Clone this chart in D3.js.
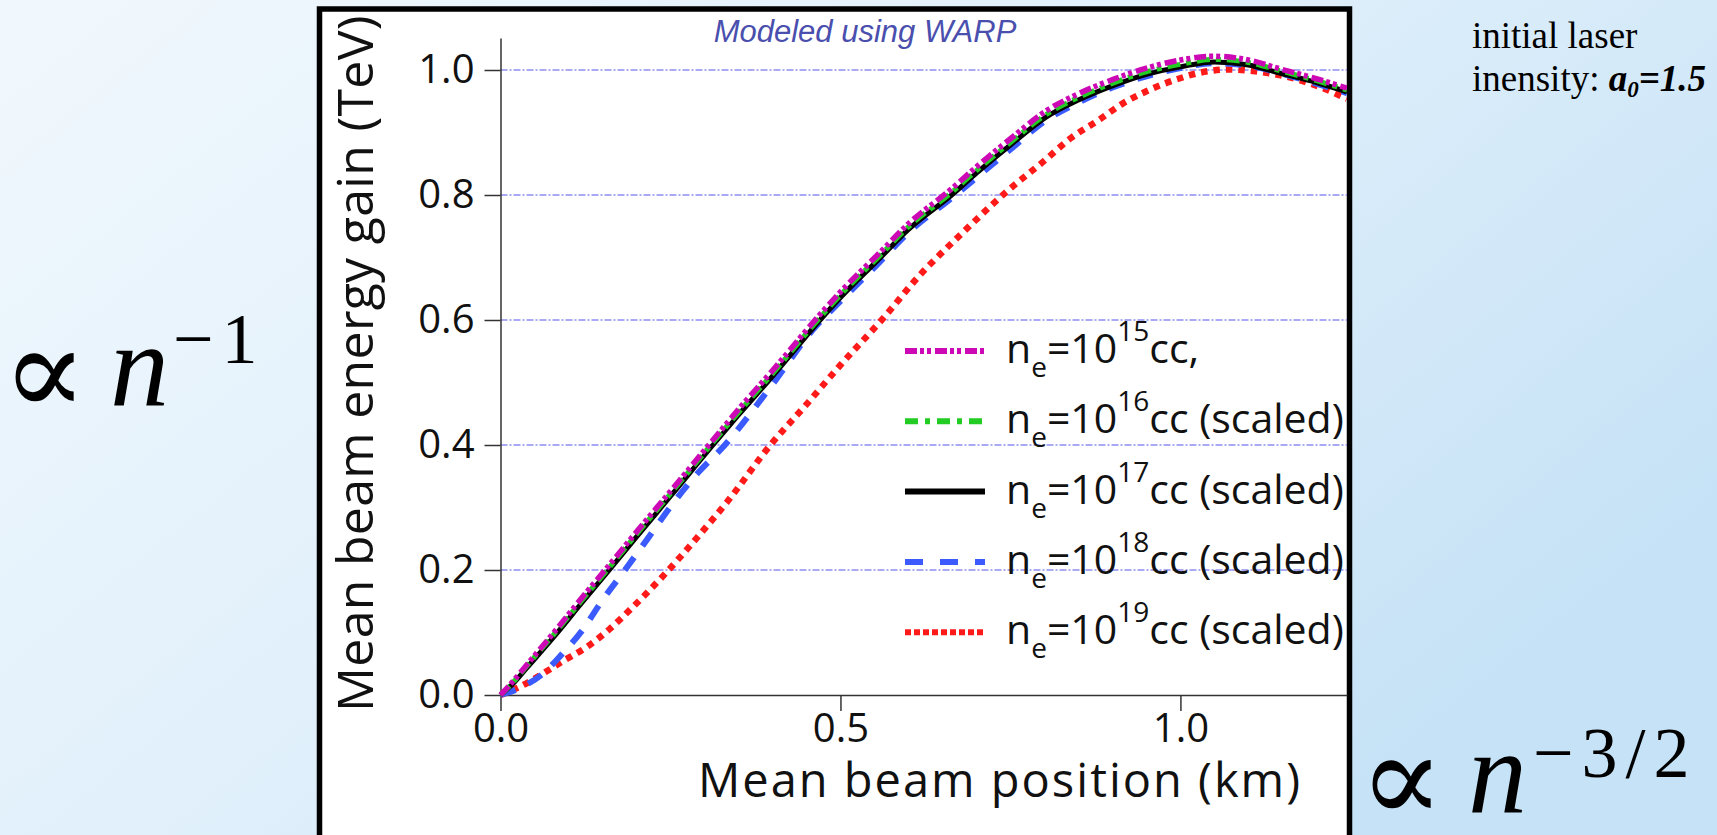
<!DOCTYPE html>
<html lang="en">
<head>
<meta charset="UTF-8">
<title>Mean beam energy gain</title>
<style>
  html, body { margin: 0; padding: 0; overflow: hidden; }
  svg { display: block; }
  .tick text { font-family: "Open Sans", sans-serif; font-size: 40px; fill: #111; }
  .tick line, .domain { stroke: #333; stroke-width: 1.5; }
</style>
</head>
<body>
<div id="chart"></div>
<script src="https://d3js.org/d3.v7.min.js"></script>
<script>
// x positions (km) and gains (TeV)
const xs17 = [0, 0.02, 0.04, 0.08, 0.12, 0.16, 0.2, 0.25, 0.3125, 0.35, 0.4, 0.47, 0.5, 0.558, 0.6, 0.6635, 0.7, 0.75, 0.803, 0.85, 0.901, 0.95, 1.0, 1.05, 1.1, 1.146, 1.2, 1.245];
const n15 = [0, 0.024, 0.05, 0.102, 0.156, 0.208, 0.261, 0.326, 0.408, 0.457, 0.519, 0.609, 0.645, 0.708, 0.754, 0.81, 0.845, 0.89, 0.935, 0.962, 0.985, 1.003, 1.016, 1.022, 1.016, 1.002, 0.986, 0.971];
const n16 = [0, 0.022, 0.048, 0.099, 0.152, 0.204, 0.257, 0.322, 0.404, 0.452, 0.514, 0.604, 0.640, 0.703, 0.749, 0.804, 0.839, 0.884, 0.929, 0.956, 0.979, 0.997, 1.009, 1.017, 1.012, 0.999, 0.983, 0.968];
const n17 = [0, 0.02, 0.045, 0.095, 0.148, 0.2, 0.253, 0.318, 0.4, 0.448, 0.51, 0.6, 0.636, 0.699, 0.745, 0.8, 0.835, 0.88, 0.925, 0.952, 0.975, 0.993, 1.005, 1.013, 1.008, 0.995, 0.98, 0.965];

const xs18 = [0, 0.03, 0.06, 0.09, 0.12, 0.15, 0.183, 0.217, 0.254, 0.29, 0.33, 0.4, 0.46, 0.5, 0.558, 0.6, 0.6635, 0.75, 0.803, 0.85, 0.9, 0.95, 1.0, 1.05, 1.1, 1.146, 1.2, 1.245];
const n18 = [0, 0.012, 0.032, 0.065, 0.103, 0.152, 0.2, 0.251, 0.307, 0.355, 0.4, 0.497, 0.585, 0.63, 0.693, 0.74, 0.795, 0.873, 0.92, 0.948, 0.972, 0.99, 1.003, 1.011, 1.007, 0.995, 0.978, 0.963];

const xs19 = [0, 0.03, 0.0605, 0.09, 0.127, 0.16, 0.192, 0.243, 0.2885, 0.3326, 0.397, 0.45, 0.5, 0.563, 0.6144, 0.68, 0.744, 0.8, 0.8375, 0.88, 0.916, 0.95, 0.9944, 1.03, 1.0728, 1.11, 1.146, 1.2, 1.245];
const n19 = [0, 0.014, 0.033, 0.053, 0.077, 0.105, 0.138, 0.195, 0.251, 0.308, 0.4, 0.465, 0.528, 0.603, 0.669, 0.74, 0.805, 0.855, 0.89, 0.92, 0.947, 0.966, 0.985, 0.996, 1.001, 0.998, 0.992, 0.975, 0.954];

const yTicks = [0, 0.2, 0.4, 0.6, 0.8, 1.0];
const xTicks = [0, 0.5, 1.0];
const seriesNames = ["1015", "1016", "1017", "1018", "1019"];

const W = 1717, H = 835;
const svg = d3.select("#chart").append("svg").attr("width", W).attr("height", H);

// background
const defs = svg.append("defs");
const grad = defs.append("linearGradient").attr("id", "bg")
  .attr("x1", 0).attr("y1", 0).attr("x2", 1).attr("y2", 0.6);
grad.append("stop").attr("offset", 0).attr("stop-color", "#f1f8fd");
grad.append("stop").attr("offset", 0.5).attr("stop-color", "#e1f0fb");
grad.append("stop").attr("offset", 1).attr("stop-color", "#c6e2f6");
svg.append("rect").attr("width", W).attr("height", H).attr("fill", "url(#bg)");

// white framed panel
svg.append("rect")
  .attr("x", 319.5).attr("y", 9).attr("width", 1030).attr("height", 832)
  .attr("fill", "#fff").attr("stroke", "#000").attr("stroke-width", 5.5);

const x = d3.scaleLinear().domain([0, 1.245]).range([500.5, 1347]);
const y = d3.scaleLinear().domain([0, 1.0512]).range([695, 38]);

defs.append("clipPath").attr("id", "plotclip").append("rect")
  .attr("x", x(0) - 10).attr("y", 30).attr("width", x(1.245) - x(0) + 10).attr("height", 680);

// grid lines
svg.append("g").selectAll("line")
  .data(yTicks.filter(d => d > 0))
  .join("line")
    .attr("x1", x(0)).attr("x2", x(1.245))
    .attr("y1", d => y(d)).attr("y2", d => y(d))
    .attr("stroke", "#8d8df2").attr("stroke-width", 1.3)
    .attr("stroke-dasharray", "7,2,2,2");

// axes
svg.append("g")
  .attr("transform", `translate(0,${y(0)})`)
  .call(d3.axisBottom(x).tickValues(xTicks).tickSize(16).tickSizeOuter(0).tickPadding(3).tickFormat(d3.format(".1f")));

svg.append("g")
  .attr("transform", `translate(${x(0)},0)`)
  .call(d3.axisLeft(y).tickValues(yTicks).tickSize(16).tickSizeOuter(0).tickPadding(10).tickFormat(d3.format(".1f")));

// curves
const mk = (xs, ys) => xs.map((v, i) => [v, ys[i]]);
const line = d3.line().x(d => x(d[0])).y(d => y(d[1])).curve(d3.curveMonotoneX);

const series = [
  {data: mk(xs19, n19), color: "#ff1a1a", width: 6.5, dash: "6.5,6", ldash: "6,3"},
  {data: mk(xs18, n18), color: "#3b5bff", width: 6, dash: "16,14", ldash: "18,17"},
  {data: mk(xs17, n17), color: "#000000", width: 5, dash: null, ldash: null},
  {data: mk(xs17, n16), color: "#22cc22", width: 5, dash: "13,6,5,6", ldash: "13,7,5,7"},
  {data: mk(xs17, n15), color: "#cc09b4", width: 5.5, dash: "12,3,4,3,4,4", ldash: "12,3,4,3,4,4"}
];

const plot = svg.append("g").attr("clip-path", "url(#plotclip)");
plot.selectAll("path")
  .data(series)
  .join("path")
    .attr("d", d => line(d.data))
    .attr("fill", "none")
    .attr("stroke", d => d.color)
    .attr("stroke-width", d => d.width)
    .attr("stroke-dasharray", d => d.dash);

// legend (top to bottom: 10^15 ... 10^19)
const legendOrder = [4, 3, 2, 1, 0];
const leg = svg.append("g");
legendOrder.forEach((si, i) => {
  const s = series[si];
  const cy = 351 + i * 70.3;
  leg.append("line")
    .attr("x1", 905).attr("x2", 985).attr("y1", cy).attr("y2", cy)
    .attr("stroke", s.color).attr("stroke-width", 6)
    .attr("stroke-dasharray", s.ldash);
  const t = leg.append("text")
    .attr("x", 1006).attr("y", cy + 12)
    .attr("font-family", "'Open Sans', sans-serif").attr("font-size", 41).attr("fill", "#111");
  t.append("tspan").text("n");
  t.append("tspan").attr("font-size", 28).attr("dy", 14).text("e");
  t.append("tspan").attr("dy", -14).text("=10");
  t.append("tspan").attr("font-size", 28).attr("dy", -22).text(seriesNames[i].slice(2));
  t.append("tspan").attr("dy", 22).text(i === 0 ? "cc," : "cc (scaled)");
});

// axis titles
svg.append("text")
  .attr("x", 1302).attr("y", 797)
  .attr("text-anchor", "end")
  .attr("font-family", "'Open Sans', sans-serif").attr("font-size", 47)
  .attr("letter-spacing", 2).attr("fill", "#111")
  .text("Mean beam position (km)");

svg.append("text")
  .attr("transform", "translate(373,712) rotate(-90)")
  .attr("font-family", "'Open Sans', sans-serif").attr("font-size", 50)
  .attr("letter-spacing", 0.3).attr("fill", "#111")
  .text("Mean beam energy gain (TeV)");

svg.append("text")
  .attr("x", 865).attr("y", 42).attr("text-anchor", "middle")
  .attr("font-family", "'Liberation Sans', Arial, sans-serif").attr("font-style", "italic")
  .attr("font-size", 31).attr("fill", "#4a4fae")
  .text("Modeled using WARP");

// annotation top right
const ann = svg.append("g").attr("font-family", "'Liberation Serif', serif").attr("font-size", 37).attr("fill", "#000");
ann.append("text").attr("x", 1472).attr("y", 48).text("initial laser");
const a2 = ann.append("text").attr("x", 1472).attr("y", 91);
a2.append("tspan").text("inensity: ");
a2.append("tspan").attr("font-weight", "bold").attr("font-style", "italic").text("a");
a2.append("tspan").attr("font-weight", "bold").attr("font-style", "italic").attr("font-size", 23).attr("dy", 6).text("0");
a2.append("tspan").attr("font-weight", "bold").attr("font-style", "italic").attr("dy", -6).text("=1.5");

// scaling expressions
function propto(g, px, base, nx, supx, supBase, supText) {
  g.append("text").attr("x", px).attr("y", base + 10)
    .attr("font-family", "'DejaVu Serif', serif").attr("font-size", 126).text("\u221D");
  g.append("text").attr("x", nx).attr("y", base)
    .attr("font-family", "'Liberation Serif', serif").attr("font-style", "italic").attr("font-size", 118).text("n");
  g.append("text").attr("x", supx).attr("y", supBase)
    .attr("font-family", "'Liberation Serif', serif").attr("font-size", 72)
    .attr("letter-spacing", 8).text(supText);
}
const eq = svg.append("g").attr("fill", "#000");
propto(eq, 2, 405, 110, 173, 363, "\u22121");
propto(eq, 1359, 812, 1468, 1533, 777, "\u22123/2");
</script>
</body>
</html>
